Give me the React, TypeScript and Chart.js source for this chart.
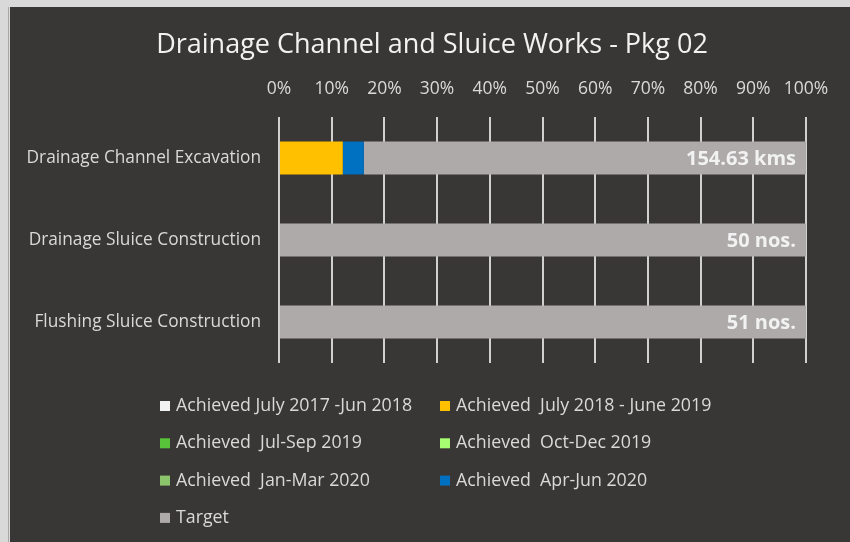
import React, { useEffect, useRef } from "react";
import { Chart, registerables } from "chart.js";

Chart.register(...registerables);

const chartTitle = "Drainage Channel and Sluice Works - Pkg 02";
const categories = [
  "Drainage Channel Excavation",
  "Drainage Sluice Construction",
  "Flushing Sluice Construction",
];
const seriesNames = [
  "Achieved July 2017 -Jun 2018",
  "Achieved  July 2018 - June 2019",
  "Achieved  Jul-Sep 2019",
  "Achieved  Oct-Dec 2019",
  "Achieved  Jan-Mar 2020",
  "Achieved  Apr-Jun 2020",
  "Target",
];
const seriesColors = ["#f2f2f2", "#ffc000", "#57c43a", "#a6ff70", "#8cc46c", "#0070c0", "#aeaaaa"];
const achievedJul17Jun18 = [0, 0, 0];
const achievedJul18Jun19 = [12.1, 0, 0];
const achievedJulSep19 = [0, 0, 0];
const achievedOctDec19 = [0, 0, 0];
const achievedJanMar20 = [0, 0, 0];
const achievedAprJun20 = [4.0, 0, 0];
const targetRemaining = [83.9, 100, 100];
const targetLabels = ["154.63 kms", "50 nos.", "51 nos."];
const xTickValues = [0, 10, 20, 30, 40, 50, 60, 70, 80, 90, 100];

const FONT = "'Open Sans', sans-serif";

const titlePlugin = {
  id: "customTitle",
  afterDraw(chart: any) {
    const ctx = chart.ctx;
    ctx.save();
    ctx.font = `27px ${FONT}`;
    ctx.fillStyle = "#f2f2f2";
    ctx.textAlign = "center";
    ctx.textBaseline = "middle";
    ctx.fillText(chartTitle, 422, 38);
    ctx.restore();
  },
};

const targetLabelPlugin = {
  id: "targetLabels",
  afterDatasetsDraw(chart: any) {
    const ctx = chart.ctx;
    const idx = chart.data.datasets.length - 1;
    const meta = chart.getDatasetMeta(idx);
    ctx.save();
    ctx.font = `bold 20px ${FONT}`;
    ctx.fillStyle = "#f2f2f2";
    ctx.textAlign = "right";
    ctx.textBaseline = "middle";
    meta.data.forEach((el: any, i: number) => {
      const p = el.getProps(["x", "y"], true);
      ctx.fillText(targetLabels[i], p.x - 10, p.y + 1);
    });
    ctx.restore();
  },
};

const gridLegendPlugin = {
  id: "gridLegend",
  afterDraw(chart: any) {
    const ctx = chart.ctx;
    ctx.save();
    ctx.font = `17.8px ${FONT}`;
    ctx.textAlign = "left";
    ctx.textBaseline = "middle";
    chart.data.datasets.forEach((ds: any, i: number) => {
      const col = i % 2;
      const row = Math.floor(i / 2);
      const bx = col === 0 ? 150 : 430;
      const cy = 399 + row * 37.3;
      ctx.fillStyle = ds.backgroundColor;
      ctx.fillRect(bx, cy - 5, 10, 10);
      ctx.fillStyle = "#d9d9d9";
      ctx.fillText(ds.label, bx + 16, cy);
    });
    ctx.restore();
  },
};

export default function App() {
  const ref = useRef<HTMLCanvasElement>(null);
  useEffect(() => {
    document.body.style.margin = "0";
    const values = [
      achievedJul17Jun18,
      achievedJul18Jun19,
      achievedJulSep19,
      achievedOctDec19,
      achievedJanMar20,
      achievedAprJun20,
      targetRemaining,
    ];
    const chart = new Chart(ref.current as HTMLCanvasElement, {
      type: "bar",
      data: {
        labels: categories,
        datasets: values.map((v, i) => ({
          label: seriesNames[i],
          data: v,
          backgroundColor: seriesColors[i],
          borderWidth: 0,
          barPercentage: 0.4,
          categoryPercentage: 1,
        })),
      },
      options: {
        indexAxis: "y",
        animation: false,
        responsive: false,
        maintainAspectRatio: false,
        layout: { padding: { left: 0, right: 44, top: 50, bottom: 179 } },
        plugins: {
          legend: { display: false },
          tooltip: { enabled: false },
          title: { display: false },
        },
        scales: {
          x: {
            position: "top",
            stacked: true,
            min: 0,
            max: 100,
            afterBuildTicks(scale: any) {
              scale.ticks = xTickValues.map((v) => ({ value: v }));
            },
            afterFit(scale: any) {
              scale.height = 60;
            },
            ticks: {
              color: "#d9d9d9",
              font: { family: FONT, size: 17.5 },
              padding: 17,
              callback: (v: any) => v + "%",
            },
            grid: { color: "#d0d0d0", lineWidth: 2, drawTicks: false },
            border: { display: false },
          },
          y: {
            stacked: true,
            afterFit(scale: any) {
              scale.width = 269;
            },
            ticks: {
              color: "#d9d9d9",
              font: { family: FONT, size: 17.3 },
              padding: 18,
            },
            grid: { display: false, drawTicks: false },
            border: { display: false },
          },
        },
      },
      plugins: [titlePlugin, targetLabelPlugin, gridLegendPlugin],
    });
    return () => chart.destroy();
  }, []);
  return (
    <div style={{ position: "relative", width: 850, height: 542, background: "#d9d9d9", overflow: "hidden" }}>
      <div style={{ position: "absolute", left: 8, top: 7, width: 1, height: 535, background: "#a8a8a8" }} />
      <canvas
        ref={ref}
        width={840}
        height={535}
        style={{ position: "absolute", left: 10, top: 7, width: 840, height: 535, background: "#393735" }}
      />
    </div>
  );
}
